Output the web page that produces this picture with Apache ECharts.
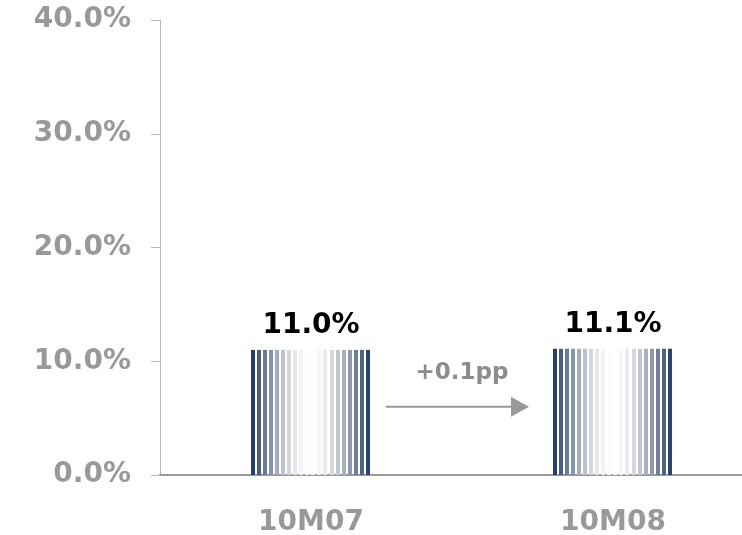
<!DOCTYPE html>
<html>
<head>
<meta charset="utf-8">
<script src="https://cdn.jsdelivr.net/npm/echarts@6/dist/echarts.min.js"></script>
<style>
  html, body { margin: 0; padding: 0; background: #fff; }
  #chart { width: 742px; height: 535px; }
</style>
</head>
<body>
<div id="chart"></div>
<script>
// Monthly share, two periods
const categories = ['10M07', '10M08'];
const shareValues = [11.0, 11.1];
const yTicks = [0, 10, 20, 30, 40];
const changeLabel = '+0.1pp';

const NAVY = [20, 50, 100];
const STRIPES = 20;
const FONT = '"DejaVu Sans", Verdana, sans-serif';
const GREY = '#999999';

// Stripe colour: ramp from white to navy, greyed in the mid tones
function mix(t) {
  const g = Math.pow(t, 1.6);
  const c = NAVY.map(v => 255 + (v - 255) * g);
  const lum = 0.3 * c[0] + 0.59 * c[1] + 0.11 * c[2];
  const sat = 0.55 + 0.45 * g;
  return 'rgb(' + c.map(v => Math.round(lum + (v - lum) * sat)).join(',') + ')';
}

// Each bar is drawn as a row of thin vertical stripes fading from navy at
// the edges to white in the middle.
function renderStriped(params, api) {
  const idx = api.value(0);
  const val = api.value(1);
  const base = api.coord([idx, 0]);
  const top = api.coord([idx, val]);
  const bandW = api.size([1, 0])[0];
  const barW = bandW * 0.4;
  const left = Math.round(base[0] - barW / 2);
  const period = barW / STRIPES;
  const stripeW = Math.round(period * 2 / 3);
  const half = barW / 2;
  const children = [];
  for (let i = 0; i < STRIPES; i++) {
    const x0 = Math.round(left + i * period);
    const cx = x0 + stripeW / 2;
    const t = Math.min(1, Math.abs(cx - base[0]) / half);
    children.push({
      type: 'rect',
      shape: { x: x0, y: top[1], width: stripeW, height: base[1] - top[1] },
      style: { fill: mix(t) }
    });
  }
  return { type: 'group', children };
}

const chart = echarts.init(document.getElementById('chart'));
chart.setOption({
  animation: false,
  grid: { left: 160, top: 20, bottom: 60, width: 604, outerBoundsMode: 'none', containLabel: false },
  xAxis: {
    type: 'category',
    data: categories,
    axisLine: { lineStyle: { color: '#9a9a9a', width: 2 } },
    axisTick: { show: false },
    axisLabel: { color: GREY, fontFamily: FONT, fontWeight: 'bold', fontSize: 28, margin: 34 }
  },
  yAxis: {
    type: 'value',
    min: yTicks[0],
    max: yTicks[yTicks.length - 1],
    interval: 10,
    axisLine: { show: true, lineStyle: { color: '#b8b8b8', width: 1 } },
    axisTick: { show: true, length: 9, lineStyle: { color: '#b8b8b8' } },
    splitLine: { show: false },
    axisLabel: {
      color: GREY, fontFamily: FONT, fontWeight: 'bold', fontSize: 28, margin: 29,
      formatter: v => v.toFixed(1) + '%'
    }
  },
  series: [
    {
      type: 'custom',
      renderItem: renderStriped,
      encode: { x: 0, y: 1 },
      data: categories.map((c, i) => [i, shareValues[i]]),
      z: 2
    },
    {
      type: 'bar',
      barWidth: '40%',
      data: shareValues,
      itemStyle: { color: 'rgba(0,0,0,0)' },
      label: {
        show: true, position: 'top', distance: 10,
        color: '#000', fontFamily: FONT, fontWeight: 'bold', fontSize: 28,
        formatter: p => p.value.toFixed(1) + '%'
      },
      z: 3
    }
  ]
});

// Change annotation between the two periods
const p0 = chart.convertToPixel({ xAxisIndex: 0 }, 0);
const p1 = chart.convertToPixel({ xAxisIndex: 0 }, 1);
const mid = (p0 + p1) / 2;
const arrowY = chart.convertToPixel({ yAxisIndex: 0 }, 6.0);
const tailX = mid - 76;
const tipX = mid + 67;
chart.setOption({
  graphic: [
    {
      type: 'line',
      shape: { x1: tailX, y1: arrowY, x2: tipX - 16, y2: arrowY },
      style: { stroke: GREY, lineWidth: 2 }
    },
    {
      type: 'polygon',
      shape: { points: [[tipX - 18, arrowY - 10], [tipX, arrowY], [tipX - 18, arrowY + 10]] },
      style: { fill: GREY }
    },
    {
      type: 'text',
      x: mid, y: arrowY - 34,
      style: {
        text: changeLabel, fill: '#8c8c8c', font: 'bold 23px ' + FONT,
        align: 'center', verticalAlign: 'middle'
      }
    }
  ]
});
</script>
</body>
</html>
